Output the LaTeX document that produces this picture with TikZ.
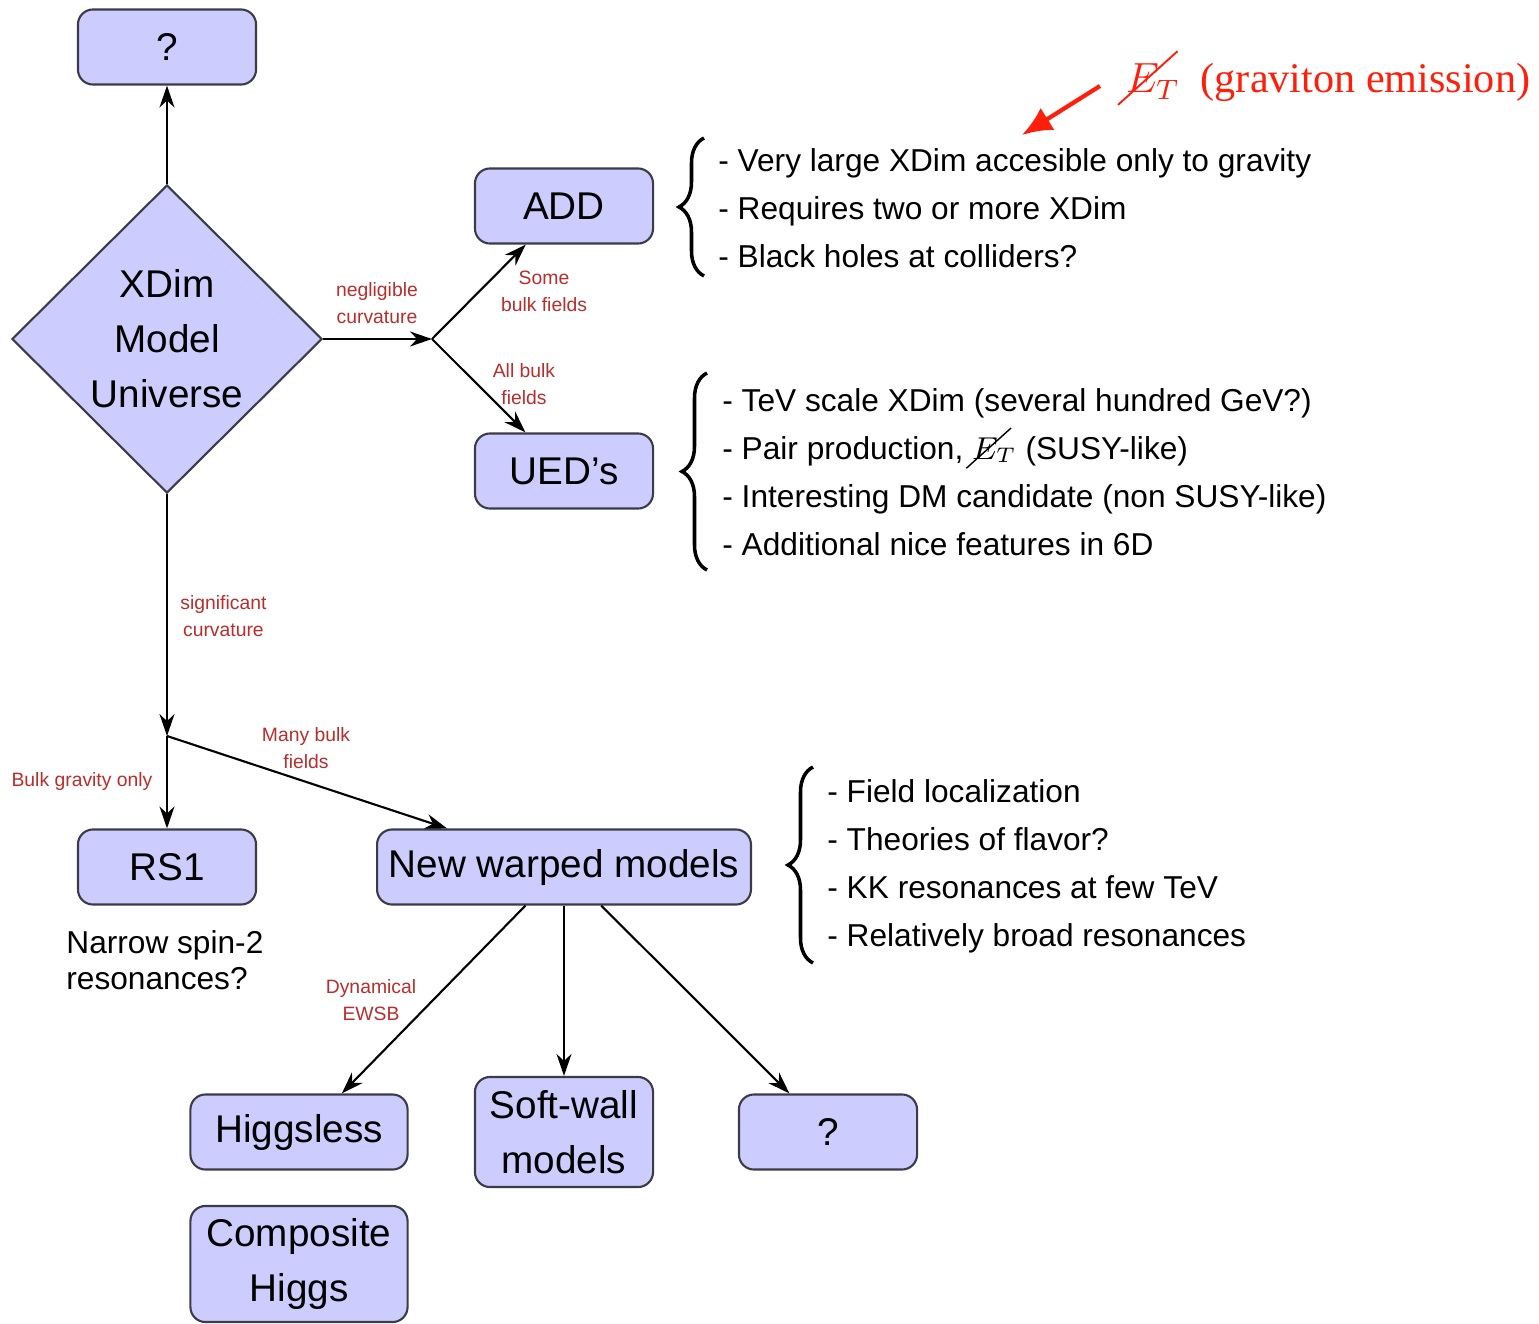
\documentclass[tikz,border=0pt]{standalone}
\usepackage{fontspec}
\setmainfont{Liberation Sans}
\newfontfamily\timesfont{Liberation Serif}
\usepackage{tikz}
\usetikzlibrary{arrows.meta,shapes.geometric,decorations.pathreplacing}
\definecolor{boxfill}{RGB}{204,204,255}
\definecolor{boxline}{RGB}{60,60,72}
\definecolor{branchred}{RGB}{185,45,45}
\definecolor{notered}{RGB}{255,30,10}
\newcommand{\missET}{\makebox[0pt][l]{\kern-0.2em\raisebox{-0.3em}{\rotatebox{42}{\rule{1.9em}{0.045em}}}}$E_T$}
\tikzset{
  modelbox/.style={draw=boxline,fill=boxfill,rounded corners=1.5mm,align=center,
    minimum width=1.78cm,minimum height=0.75cm,semithick,
    font=\fontsize{11}{15.6}\selectfont},
  universebox/.style={diamond,draw=boxline,fill=boxfill,align=center,semithick,
    minimum width=3.1cm,minimum height=3.08cm,inner sep=0pt,
    font=\fontsize{11}{15.6}\selectfont},
  flowarrow/.style={-{Stealth[length=2.2mm,width=1.5mm]},semithick},
  branchlabel/.style={font=\fontsize{5.5}{7.7}\selectfont,text=branchred,align=center},
  featurelist/.style={font=\fontsize{9}{13.66}\selectfont,align=left,anchor=west},
  listbrace/.style={decorate,decoration={brace,amplitude=2.5mm},line width=1pt}
}

\begin{document}
\begin{tikzpicture}[x=0.01cm,y=-0.01cm]
  \useasboundingbox (0,0) rectangle (1539,1324);
  % top of the tree
  \node[universebox] (xdim) at (167,339) {XDim\\Model\\Universe};
  \node[modelbox] (topq) at (167,47) {?};
  \draw[flowarrow] (xdim.north) -- (topq.south);
  % flat branch
  \coordinate (flatsplit) at (432,339);
  \node[modelbox] (add) at (564,206) {ADD};
  \node[modelbox] (ued) at (564,471) {UED’s};
  \draw[flowarrow] (xdim.east) -- (flatsplit);
  \draw[flowarrow] (flatsplit) -- (add);
  \draw[flowarrow] (flatsplit) -- (ued);
  \node[branchlabel] (negl) at (377,303) {negligible\\curvature};
  \node[branchlabel] (somebulk) at (544,291) {Some\\bulk fields};
  \node[branchlabel] (allbulk) at (524,384) {All bulk\\fields};
  % warped branch
  \coordinate (warpsplit) at (167,736);
  \node[modelbox] (rs1) at (167,867) {RS1};
  \node[modelbox,minimum width=3.7cm] (nwm) at (564,867) {New warped models};
  \draw[flowarrow] (xdim.south) -- (warpsplit);
  \draw[flowarrow] (warpsplit) -- (rs1.north);
  \draw[flowarrow] (warpsplit) -- (nwm);
  \node[branchlabel,anchor=west] (signif) at (168,616) {significant\\curvature};
  \node[branchlabel] (bulkgrav) at (82,781) {Bulk gravity only};
  \node[branchlabel] (manybulk) at (306,748) {Many bulk\\fields};
  \node[font=\fontsize{9}{10.3}\selectfont,align=left,anchor=west] (narrow) at (54,960)
    {Narrow spin-2\\resonances?};
  % children of the new warped models
  \node[modelbox,minimum width=2.17cm] (higgsless) at (299,1132) {Higgsless};
  \node[modelbox,minimum height=1.1cm] (softwall) at (564,1132) {Soft-wall\\models};
  \node[modelbox] (lowq) at (828,1132) {?};
  \node[modelbox,minimum width=2.17cm,minimum height=1.16cm] (composite) at (299,1264)
    {Composite\\Higgs};
  \draw[flowarrow] (nwm.225.7) -- (higgsless.42);
  \draw[flowarrow] (nwm.south) -- (softwall.north);
  \draw[flowarrow] (nwm.314.3) -- (lowq.135);
  \node[branchlabel] (ewsb) at (371,1000) {Dynamical\\EWSB};
  % feature lists
  \draw[listbrace] (704,276) -- (704,138);
  \node[featurelist] (addlist) at (706,208)
    {- Very large XDim accesible only to gravity\\
     - Requires two or more XDim\\
     - Black holes at colliders?};
  \draw[listbrace] (707,570) -- (707,373);
  \node[featurelist] (uedlist) at (710,472)
    {- TeV scale XDim (several hundred GeV?)\\
     - Pair production, \missET\ (SUSY-like)\\
     - Interesting DM candidate (non SUSY-like)\\
     - Additional nice features in 6D};
  \draw[listbrace] (813,963) -- (813,767);
  \node[featurelist] (nwmlist) at (815,866)
    {- Field localization\\
     - Theories of flavor?\\
     - KK resonances at few TeV\\
     - Relatively broad resonances};
  % note on the ADD list
  \node[text=notered,font=\timesfont\fontsize{12}{14}\selectfont] (gravnote) at (1328,78)
    {\missET\ \ (graviton emission)};
  \coordinate (notestart) at (1100,86);
  \coordinate (noteend) at (1022,135);
  \draw[-{Latex[length=3mm,width=2.6mm]},notered,line width=1.2pt] (notestart) -- (noteend);
\end{tikzpicture}
\end{document}
